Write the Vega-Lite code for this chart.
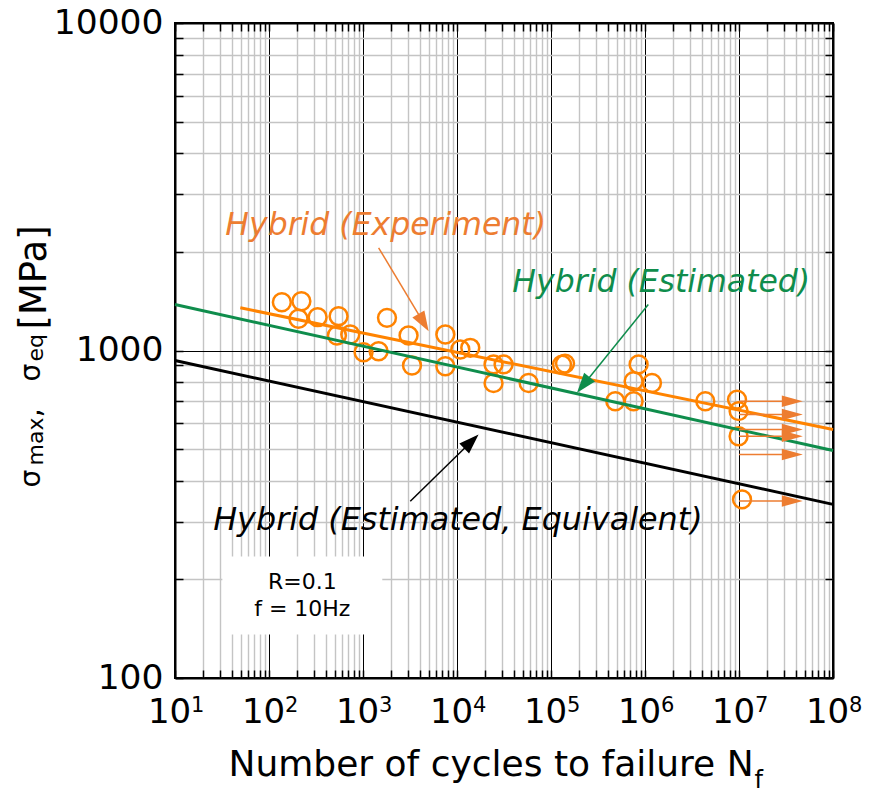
{
  "$schema": "https://vega.github.io/schema/vega-lite/v6.json",
  "width": 658,
  "height": 655,
  "autosize": {"type": "none"},
  "padding": {"left": 175, "top": 23, "right": 45, "bottom": 116},
  "background": "white",
  "config": {
    "font": "DejaVu Sans",
    "view": {"stroke": "#000000", "strokeWidth": 2}
  },
  "datasets": {
    "lines": [
      {"series": "Experiment", "N": 49.5, "S": 1350},
      {"series": "Experiment", "N": 100000000, "S": 574},
      {"series": "Estimated", "N": 10, "S": 1382},
      {"series": "Estimated", "N": 100000000, "S": 495},
      {"series": "Equivalent", "N": 10, "S": 932},
      {"series": "Equivalent", "N": 100000000, "S": 339}
    ],
    "points": [
      {"N": 137, "S": 1404}, {"N": 221, "S": 1414}, {"N": 206, "S": 1250},
      {"N": 329, "S": 1264}, {"N": 550, "S": 1273}, {"N": 528, "S": 1111},
      {"N": 732, "S": 1119}, {"N": 1014, "S": 988}, {"N": 1465, "S": 995},
      {"N": 1800, "S": 1258}, {"N": 3053, "S": 1111}, {"N": 3321, "S": 900},
      {"N": 7516, "S": 1119}, {"N": 7516, "S": 895}, {"N": 10850, "S": 1007},
      {"N": 13840, "S": 1019}, {"N": 24470, "S": 907}, {"N": 31300, "S": 907},
      {"N": 24470, "S": 795}, {"N": 57800, "S": 796}, {"N": 131000, "S": 905},
      {"N": 141000, "S": 912}, {"N": 483000, "S": 700}, {"N": 757000, "S": 700},
      {"N": 757000, "S": 806}, {"N": 855000, "S": 907}, {"N": 1186000, "S": 796},
      {"N": 4380000, "S": 700}, {"N": 9530000, "S": 708}, {"N": 9900000, "S": 653},
      {"N": 9900000, "S": 547}, {"N": 10770000, "S": 351}
    ],
    "runouts": [
      {"S": 700}, {"S": 638}, {"S": 574}, {"S": 547}, {"S": 481}, {"S": 347}
    ],
    "exponents": [
      {"N": 10, "e": "1"}, {"N": 100, "e": "2"}, {"N": 1000, "e": "3"}, {"N": 10000, "e": "4"},
      {"N": 100000, "e": "5"}, {"N": 1000000, "e": "6"}, {"N": 10000000, "e": "7"}, {"N": 100000000, "e": "8"}
    ]
  },
  "layer": [
    {
      "data": {"values": [{}]},
      "mark": {"type": "rect", "fill": "white", "strokeWidth": 0},
      "encoding": {
        "x": {"datum": 31.9, "type": "quantitative", "scale": {"type": "log", "domain": [10, 100000000], "nice": false}, "axis": null},
        "x2": {"datum": 1604},
        "y": {"datum": 135.8, "type": "quantitative", "scale": {"type": "log", "domain": [100, 10000], "nice": false}, "axis": null},
        "y2": {"datum": 235}
      }
    },
    {
      "data": {"name": "points"},
      "mark": {"type": "point", "shape": "circle", "size": 320, "strokeWidth": 2.5, "color": "#ff8300", "filled": false, "opacity": 1},
      "encoding": {
        "x": {
          "field": "N", "type": "quantitative",
          "scale": {"type": "log", "domain": [10, 100000000], "nice": false},
          "axis": {
            "orient": "top",
            "values": [10,20,30,40,50,60,70,80,90,100,200,300,400,500,600,700,800,900,1000,2000,3000,4000,5000,6000,7000,8000,9000,10000,20000,30000,40000,50000,60000,70000,80000,90000,100000,200000,300000,400000,500000,600000,700000,800000,900000,1000000,2000000,3000000,4000000,5000000,6000000,7000000,8000000,9000000,10000000,20000000,30000000,40000000,50000000,60000000,70000000,80000000,90000000,100000000],
            "grid": false, "labels": false, "title": null,
            "domain": true, "domainColor": "#000000", "domainWidth": 2,
            "ticks": true, "tickSize": -8, "tickColor": "#000000", "tickWidth": 1.5
          }
        },
        "y": {
          "field": "S", "type": "quantitative",
          "scale": {"type": "log", "domain": [100, 10000], "nice": false},
          "axis": {
            "orient": "right",
            "values": [100,200,300,400,500,600,700,800,900,1000,2000,3000,4000,5000,6000,7000,8000,9000,10000],
            "grid": false, "labels": false, "title": null,
            "domain": true, "domainColor": "#000000", "domainWidth": 2,
            "ticks": true, "tickSize": -8, "tickColor": "#000000", "tickWidth": 1.5
          }
        }
      }
    },
    {
      "data": {"name": "lines"},
      "mark": {"type": "line", "strokeWidth": 3},
      "encoding": {
        "x": {
          "field": "N", "type": "quantitative",
          "scale": {"type": "log", "domain": [10, 100000000], "nice": false},
          "axis": {
            "orient": "bottom",
            "values": [10,20,30,40,50,60,70,80,90,100,200,300,400,500,600,700,800,900,1000,2000,3000,4000,5000,6000,7000,8000,9000,10000,20000,30000,40000,50000,60000,70000,80000,90000,100000,200000,300000,400000,500000,600000,700000,800000,900000,1000000,2000000,3000000,4000000,5000000,6000000,7000000,8000000,9000000,10000000,20000000,30000000,40000000,50000000,60000000,70000000,80000000,90000000,100000000],
            "grid": true,
            "gridColor": {"condition": {"test": "abs(log(datum.value)/LN10 - round(log(datum.value)/LN10)) < 1e-6", "value": "#000000"}, "value": "#c4c4c4"},
            "gridWidth": {"condition": {"test": "abs(log(datum.value)/LN10 - round(log(datum.value)/LN10)) < 1e-6", "value": 1}, "value": 1.4},
            "domain": true, "domainColor": "#000000", "domainWidth": 2,
            "ticks": true, "tickSize": -8, "tickColor": "#000000", "tickWidth": 1.5,
            "labelExpr": "abs(log(datum.value)/LN10 - round(log(datum.value)/LN10)) < 1e-6 ? '10' : ''",
            "labelFontSize": 34, "labelColor": "#000000", "labelPadding": 25, "labelOffset": -6,
            "labelFlush": false, "labelOverlap": false, "labelBaseline": "top",
            "title": "Number of cycles to failure N",
            "titleFontSize": 36, "titleFontWeight": "normal", "titleColor": "#000000",
            "titleAnchor": "start", "titleAlign": "left", "titleX": 53, "titleY": 97,
            "titleBaseline": "alphabetic"
          }
        },
        "y": {
          "field": "S", "type": "quantitative",
          "scale": {"type": "log", "domain": [100, 10000], "nice": false},
          "axis": {
            "orient": "left",
            "values": [100,200,300,400,500,600,700,800,900,1000,2000,3000,4000,5000,6000,7000,8000,9000,10000],
            "grid": true,
            "gridColor": {"condition": {"test": "abs(log(datum.value)/LN10 - round(log(datum.value)/LN10)) < 1e-6", "value": "#000000"}, "value": "#c4c4c4"},
            "gridWidth": {"condition": {"test": "abs(log(datum.value)/LN10 - round(log(datum.value)/LN10)) < 1e-6", "value": 1}, "value": 1.4},
            "domain": true, "domainColor": "#000000", "domainWidth": 2,
            "ticks": true, "tickSize": -8, "tickColor": "#000000", "tickWidth": 1.5,
            "labelExpr": "abs(log(datum.value)/LN10 - round(log(datum.value)/LN10)) < 1e-6 ? format(datum.value, 'd') : ''",
            "labelFontSize": 34.5, "labelColor": "#000000", "labelPadding": 20,
            "labelFlush": false, "labelOverlap": false,
            "title": null
          }
        },
        "color": {
          "field": "series", "type": "nominal",
          "scale": {"domain": ["Experiment", "Estimated", "Equivalent"], "range": ["#ff8300", "#0f8d4c", "#000000"]},
          "legend": null
        }
      }
    },
    {
      "data": {"name": "exponents"},
      "mark": {"type": "text", "fontSize": 21, "color": "#000000", "align": "left", "baseline": "alphabetic", "dx": 16},
      "encoding": {
        "text": {"field": "e"},
        "x": {"field": "N", "type": "quantitative", "scale": {"type": "log", "domain": [10, 100000000], "nice": false}, "axis": null},
        "y": {"datum": 79.0, "type": "quantitative", "scale": {"type": "log", "domain": [100, 10000], "nice": false}, "axis": null}
      }
    },
    {
      "data": {"name": "runouts"},
      "mark": {"type": "rule", "color": "#ed7d31", "strokeWidth": 1.5},
      "encoding": {
        "x": {"datum": 10000000, "type": "quantitative", "scale": {"type": "log", "domain": [10, 100000000], "nice": false}, "axis": null},
        "x2": {"datum": 31000000},
        "y": {"field": "S", "type": "quantitative", "scale": {"type": "log", "domain": [100, 10000], "nice": false}, "axis": null}
      }
    },
    {
      "data": {"name": "runouts"},
      "mark": {"type": "point", "shape": "M-1,-0.55L1,0L-1,0.55Z", "size": 441, "filled": true, "color": "#ed7d31", "opacity": 1, "strokeWidth": 0},
      "encoding": {
        "x": {"datum": 36900000, "type": "quantitative", "scale": {"type": "log", "domain": [10, 100000000], "nice": false}, "axis": null},
        "y": {"field": "S", "type": "quantitative", "scale": {"type": "log", "domain": [100, 10000], "nice": false}, "axis": null}
      }
    },
    {
      "data": {"values": [{}]},
      "mark": {"type": "rule", "color": "#ed7d31", "strokeWidth": 1.5},
      "encoding": {
        "x": {"datum": 1466, "type": "quantitative", "scale": {"type": "log", "domain": [10, 100000000], "nice": false}, "axis": null},
        "y": {"datum": 2059, "type": "quantitative", "scale": {"type": "log", "domain": [100, 10000], "nice": false}, "axis": null},
        "x2": {"datum": 4402},
        "y2": {"datum": 1217}
      }
    },
    {
      "data": {"values": [{}]},
      "mark": {"type": "point", "shape": "M-1,-0.7L1,0L-1,0.7Z", "size": 400, "filled": true, "color": "#ed7d31", "opacity": 1, "strokeWidth": 0, "angle": 59},
      "encoding": {
        "x": {"datum": 4402, "type": "quantitative", "scale": {"type": "log", "domain": [10, 100000000], "nice": false}, "axis": null},
        "y": {"datum": 1217, "type": "quantitative", "scale": {"type": "log", "domain": [100, 10000], "nice": false}, "axis": null}
      }
    },
    {
      "data": {"values": [{}]},
      "mark": {"type": "rule", "color": "#0f8d4c", "strokeWidth": 1.5},
      "encoding": {
        "x": {"datum": 1084000, "type": "quantitative", "scale": {"type": "log", "domain": [10, 100000000], "nice": false}, "axis": null},
        "y": {"datum": 1382, "type": "quantitative", "scale": {"type": "log", "domain": [100, 10000], "nice": false}, "axis": null},
        "x2": {"datum": 220600},
        "y2": {"datum": 784.7}
      }
    },
    {
      "data": {"values": [{}]},
      "mark": {"type": "point", "shape": "M-1,-0.7L1,0L-1,0.7Z", "size": 400, "filled": true, "color": "#0f8d4c", "opacity": 1, "strokeWidth": 0, "angle": 129},
      "encoding": {
        "x": {"datum": 220600, "type": "quantitative", "scale": {"type": "log", "domain": [10, 100000000], "nice": false}, "axis": null},
        "y": {"datum": 784.7, "type": "quantitative", "scale": {"type": "log", "domain": [100, 10000], "nice": false}, "axis": null}
      }
    },
    {
      "data": {"values": [{}]},
      "mark": {"type": "rule", "color": "#000000", "strokeWidth": 1.5},
      "encoding": {
        "x": {"datum": 3184, "type": "quantitative", "scale": {"type": "log", "domain": [10, 100000000], "nice": false}, "axis": null},
        "y": {"datum": 346.6, "type": "quantitative", "scale": {"type": "log", "domain": [100, 10000], "nice": false}, "axis": null},
        "x2": {"datum": 14230},
        "y2": {"datum": 527.5}
      }
    },
    {
      "data": {"values": [{}]},
      "mark": {"type": "point", "shape": "M-1,-0.7L1,0L-1,0.7Z", "size": 400, "filled": true, "color": "#000000", "opacity": 1, "strokeWidth": 0, "angle": 316},
      "encoding": {
        "x": {"datum": 14230, "type": "quantitative", "scale": {"type": "log", "domain": [10, 100000000], "nice": false}, "axis": null},
        "y": {"datum": 527.5, "type": "quantitative", "scale": {"type": "log", "domain": [100, 10000], "nice": false}, "axis": null}
      }
    },
    {
      "data": {"values": [{}]},
      "mark": {"type": "text", "text": "Hybrid (Experiment)", "fontSize": 31.5, "fontStyle": "italic", "color": "#ed7d31", "align": "left", "baseline": "alphabetic"},
      "encoding": {
        "x": {"datum": 34.3, "type": "quantitative", "scale": {"type": "log", "domain": [10, 100000000], "nice": false}, "axis": null},
        "y": {"datum": 2260, "type": "quantitative", "scale": {"type": "log", "domain": [100, 10000], "nice": false}, "axis": null}
      }
    },
    {
      "data": {"values": [{}]},
      "mark": {"type": "text", "text": "Hybrid (Estimated)", "fontSize": 31.5, "fontStyle": "italic", "color": "#0f8d4c", "align": "left", "baseline": "alphabetic"},
      "encoding": {
        "x": {"datum": 38800, "type": "quantitative", "scale": {"type": "log", "domain": [10, 100000000], "nice": false}, "axis": null},
        "y": {"datum": 1514, "type": "quantitative", "scale": {"type": "log", "domain": [100, 10000], "nice": false}, "axis": null}
      }
    },
    {
      "data": {"values": [{}]},
      "mark": {"type": "text", "text": "Hybrid (Estimated, Equivalent)", "fontSize": 31.8, "fontStyle": "italic", "color": "#000000", "align": "left", "baseline": "alphabetic"},
      "encoding": {
        "x": {"datum": 25.5, "type": "quantitative", "scale": {"type": "log", "domain": [10, 100000000], "nice": false}, "axis": null},
        "y": {"datum": 284, "type": "quantitative", "scale": {"type": "log", "domain": [100, 10000], "nice": false}, "axis": null}
      }
    },
    {
      "data": {"values": [{}]},
      "mark": {"type": "text", "text": "R=0.1", "fontSize": 22, "color": "#000000", "align": "center", "baseline": "alphabetic"},
      "encoding": {
        "x": {"datum": 226, "type": "quantitative", "scale": {"type": "log", "domain": [10, 100000000], "nice": false}, "axis": null},
        "y": {"datum": 187.6, "type": "quantitative", "scale": {"type": "log", "domain": [100, 10000], "nice": false}, "axis": null}
      }
    },
    {
      "data": {"values": [{}]},
      "mark": {"type": "text", "text": "f = 10Hz", "fontSize": 22, "color": "#000000", "align": "center", "baseline": "alphabetic"},
      "encoding": {
        "x": {"datum": 226, "type": "quantitative", "scale": {"type": "log", "domain": [10, 100000000], "nice": false}, "axis": null},
        "y": {"datum": 154.1, "type": "quantitative", "scale": {"type": "log", "domain": [100, 10000], "nice": false}, "axis": null}
      }
    },
    {
      "data": {"values": [{}]},
      "mark": {"type": "text", "text": "f", "fontSize": 24, "color": "#000000", "align": "left", "baseline": "alphabetic"},
      "encoding": {
        "x": {"datum": 14600000, "type": "quantitative", "scale": {"type": "log", "domain": [10, 100000000], "nice": false}, "axis": null},
        "y": {"datum": 46.3, "type": "quantitative", "scale": {"type": "log", "domain": [100, 10000], "nice": false}, "axis": null}
      }
    },
    {
      "data": {"values": [{}]},
      "mark": {"type": "text", "text": "σ", "fontSize": 28, "color": "#000000", "align": "left", "baseline": "alphabetic", "angle": 270},
      "encoding": {
        "x": {"datum": 0.369, "type": "quantitative", "scale": {"type": "log", "domain": [10, 100000000], "nice": false}, "axis": null},
        "y": {"datum": 381.6, "type": "quantitative", "scale": {"type": "log", "domain": [100, 10000], "nice": false}, "axis": null}
      }
    },
    {
      "data": {"values": [{}]},
      "mark": {"type": "text", "text": "max", "fontSize": 22, "color": "#000000", "align": "left", "baseline": "alphabetic", "angle": 270},
      "encoding": {
        "x": {"datum": 0.397, "type": "quantitative", "scale": {"type": "log", "domain": [10, 100000000], "nice": false}, "axis": null},
        "y": {"datum": 445.5, "type": "quantitative", "scale": {"type": "log", "domain": [100, 10000], "nice": false}, "axis": null}
      }
    },
    {
      "data": {"values": [{}]},
      "mark": {"type": "text", "text": ",", "fontSize": 30, "color": "#000000", "align": "left", "baseline": "alphabetic", "angle": 270},
      "encoding": {
        "x": {"datum": 0.369, "type": "quantitative", "scale": {"type": "log", "domain": [10, 100000000], "nice": false}, "axis": null},
        "y": {"datum": 624, "type": "quantitative", "scale": {"type": "log", "domain": [100, 10000], "nice": false}, "axis": null}
      }
    },
    {
      "data": {"values": [{}]},
      "mark": {"type": "text", "text": "σ", "fontSize": 28, "color": "#000000", "align": "left", "baseline": "alphabetic", "angle": 270},
      "encoding": {
        "x": {"datum": 0.369, "type": "quantitative", "scale": {"type": "log", "domain": [10, 100000000], "nice": false}, "axis": null},
        "y": {"datum": 804, "type": "quantitative", "scale": {"type": "log", "domain": [100, 10000], "nice": false}, "axis": null}
      }
    },
    {
      "data": {"values": [{}]},
      "mark": {"type": "text", "text": "eq", "fontSize": 22, "color": "#000000", "align": "left", "baseline": "alphabetic", "angle": 270},
      "encoding": {
        "x": {"datum": 0.397, "type": "quantitative", "scale": {"type": "log", "domain": [10, 100000000], "nice": false}, "axis": null},
        "y": {"datum": 925.6, "type": "quantitative", "scale": {"type": "log", "domain": [100, 10000], "nice": false}, "axis": null}
      }
    },
    {
      "data": {"values": [{}]},
      "mark": {"type": "text", "text": "[MPa]", "fontSize": 37, "color": "#000000", "align": "left", "baseline": "alphabetic", "angle": 270},
      "encoding": {
        "x": {"datum": 0.4276, "type": "quantitative", "scale": {"type": "log", "domain": [10, 100000000], "nice": false}, "axis": null},
        "y": {"datum": 1159, "type": "quantitative", "scale": {"type": "log", "domain": [100, 10000], "nice": false}, "axis": null}
      }
    }
  ],
  "resolve": {"axis": {"x": "independent", "y": "independent"}}
}
